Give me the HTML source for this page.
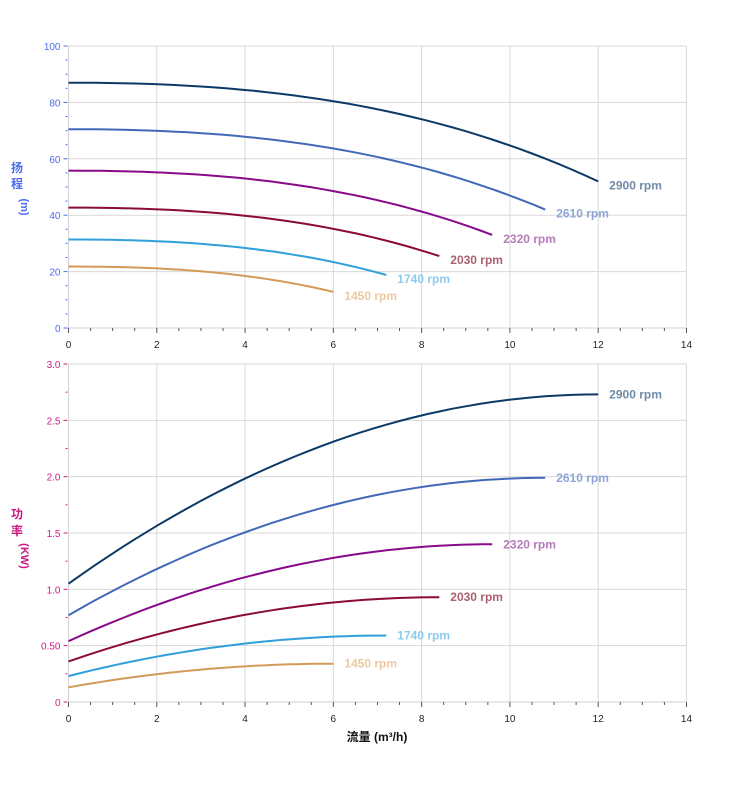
<!DOCTYPE html>
<html><head><meta charset="utf-8">
<style>
html,body{margin:0;padding:0;background:#fff;}
svg{display:block;font-family:"Liberation Sans","Noto Sans CJK SC",sans-serif;}
</style></head>
<body>
<svg id="s" width="752" height="797" xmlns="http://www.w3.org/2000/svg"></svg>
<script>
const s=document.getElementById('s');
let h='';
const X0=68.5,PX=44.14;
function xp(q){return X0+q*PX;}
const charts=[
 {top:46,bot:328,max:100,step:20,minor:5,col:'#4a6cf0',fmt:v=>String(v)},
 {top:364,bot:702,max:3,step:0.5,minor:0.25,col:'#d01a8a',fmt:v=>v==0?'0':(v==0.5?'0.50':v.toFixed(1))}
];
charts.forEach(c=>{
 const yp=v=>c.bot-(v/c.max)*(c.bot-c.top);
 for(let q=2;q<=14;q+=2)h+=`<line x1="${xp(q)}" y1="${c.top}" x2="${xp(q)}" y2="${c.bot}" stroke="#d8d8d8" stroke-width="1"/>`;
 for(let v=c.step;v<=c.max+1e-9;v+=c.step)h+=`<line x1="${X0}" y1="${yp(v)}" x2="${xp(14)}" y2="${yp(v)}" stroke="#d8d8d8" stroke-width="1"/>`;
 h+=`<line x1="${X0}" y1="${c.top}" x2="${X0}" y2="${c.bot}" stroke="#d0d0d0"/>`;
 h+=`<line x1="${X0}" y1="${c.bot}" x2="${xp(14)}" y2="${c.bot}" stroke="#d0d0d0"/>`;
 for(let v=0;v<=c.max+1e-9;v+=c.minor){
  const major=Math.abs(v/c.step-Math.round(v/c.step))<1e-6;
  h+=`<line x1="${X0-(major?5:3)}" y1="${yp(v)}" x2="${X0-1}" y2="${yp(v)}" stroke="${c.col}" stroke-width="1"/>`;
  if(major)h+=`<text x="${X0-8}" y="${yp(v)+4}" font-size="10" fill="${c.col}" text-anchor="end">${c.fmt(Math.round(v*100)/100)}</text>`;
 }
 for(let q=0;q<=14;q+=0.5){
  const major=q%2==0;
  h+=`<line x1="${xp(q)}" y1="${c.bot}" x2="${xp(q)}" y2="${c.bot+(major?5:3)}" stroke="#555" stroke-width="1"/>`;
  if(major)h+=`<text x="${xp(q)}" y="${c.bot+20}" font-size="10" fill="#222" text-anchor="middle">${q}</text>`;
 }
 c.yp=yp;
});
const lines=['#0b3a66','#4169b8','#880a8a','#8a0a38','#2fa0dc','#d49a58'];
const labs=['#6f8ba6','#8fa5d8','#b57cba','#aa5f72','#8ccbef','#ecc9a0'];
const rpm=['2900','2610','2320','2030','1740','1450'];
const head=[[12,87,52],[10.8,70.5,42],[9.6,55.8,33],[8.4,42.7,25.5],[7.2,31.4,18.8],[6,21.8,12.8]];
const pow=[[12,1.05,2.73],[10.8,0.77,1.99],[9.6,0.54,1.40],[8.4,0.36,0.93],[7.2,0.23,0.59],[6,0.13,0.34]];
for(let i=0;i<6;i++){
 let [qe,a,b]=head[i],p='';
 for(let k=0;k<=40;k++){const q=qe*k/40,t=k/40;const v=a-(a-b)*(0.5*t*t+0.5*t*t*t);p+=(k?'L':'M')+xp(q).toFixed(1)+','+charts[0].yp(v).toFixed(1);}
 h+=`<path d="${p}" fill="none" stroke="${lines[i]}" stroke-width="2"/>`;
 h+=`<text x="${xp(qe)+11}" y="${charts[0].yp(b)+8}" font-size="12" font-weight="bold" fill="${labs[i]}">${rpm[i]} rpm</text>`;
 [qe,a,b]=pow[i];p='';
 for(let k=0;k<=40;k++){const q=qe*k/40,t=k/40;const v=a+(b-a)*(2*t-t*t);p+=(k?'L':'M')+xp(q).toFixed(1)+','+charts[1].yp(v).toFixed(1);}
 h+=`<path d="${p}" fill="none" stroke="${lines[i]}" stroke-width="2"/>`;
 h+=`<text x="${xp(qe)+11}" y="${charts[1].yp(b)+4}" font-size="12" font-weight="bold" fill="${labs[i]}">${rpm[i]} rpm</text>`;
}
h+=`<text x="17" y="172" font-size="12" font-weight="bold" fill="#4a6cf0" text-anchor="middle">扬</text>`;
h+=`<text x="17" y="188" font-size="12" font-weight="bold" fill="#4a6cf0" text-anchor="middle">程</text>`;
h+=`<text transform="translate(21,207) rotate(90)" font-size="11" font-weight="bold" fill="#4a6cf0" text-anchor="middle">(m)</text>`;
h+=`<text x="17" y="518" font-size="12" font-weight="bold" fill="#c81884" text-anchor="middle">功</text>`;
h+=`<text x="17" y="535" font-size="12" font-weight="bold" fill="#c81884" text-anchor="middle">率</text>`;
h+=`<text transform="translate(21,556) rotate(90)" font-size="11" font-weight="bold" fill="#c81884" text-anchor="middle">(KW)</text>`;
h+=`<text x="377" y="741" font-size="12" font-weight="bold" fill="#111" text-anchor="middle">流量 (m³/h)</text>`;
s.innerHTML=h;
</script>
</body></html>
